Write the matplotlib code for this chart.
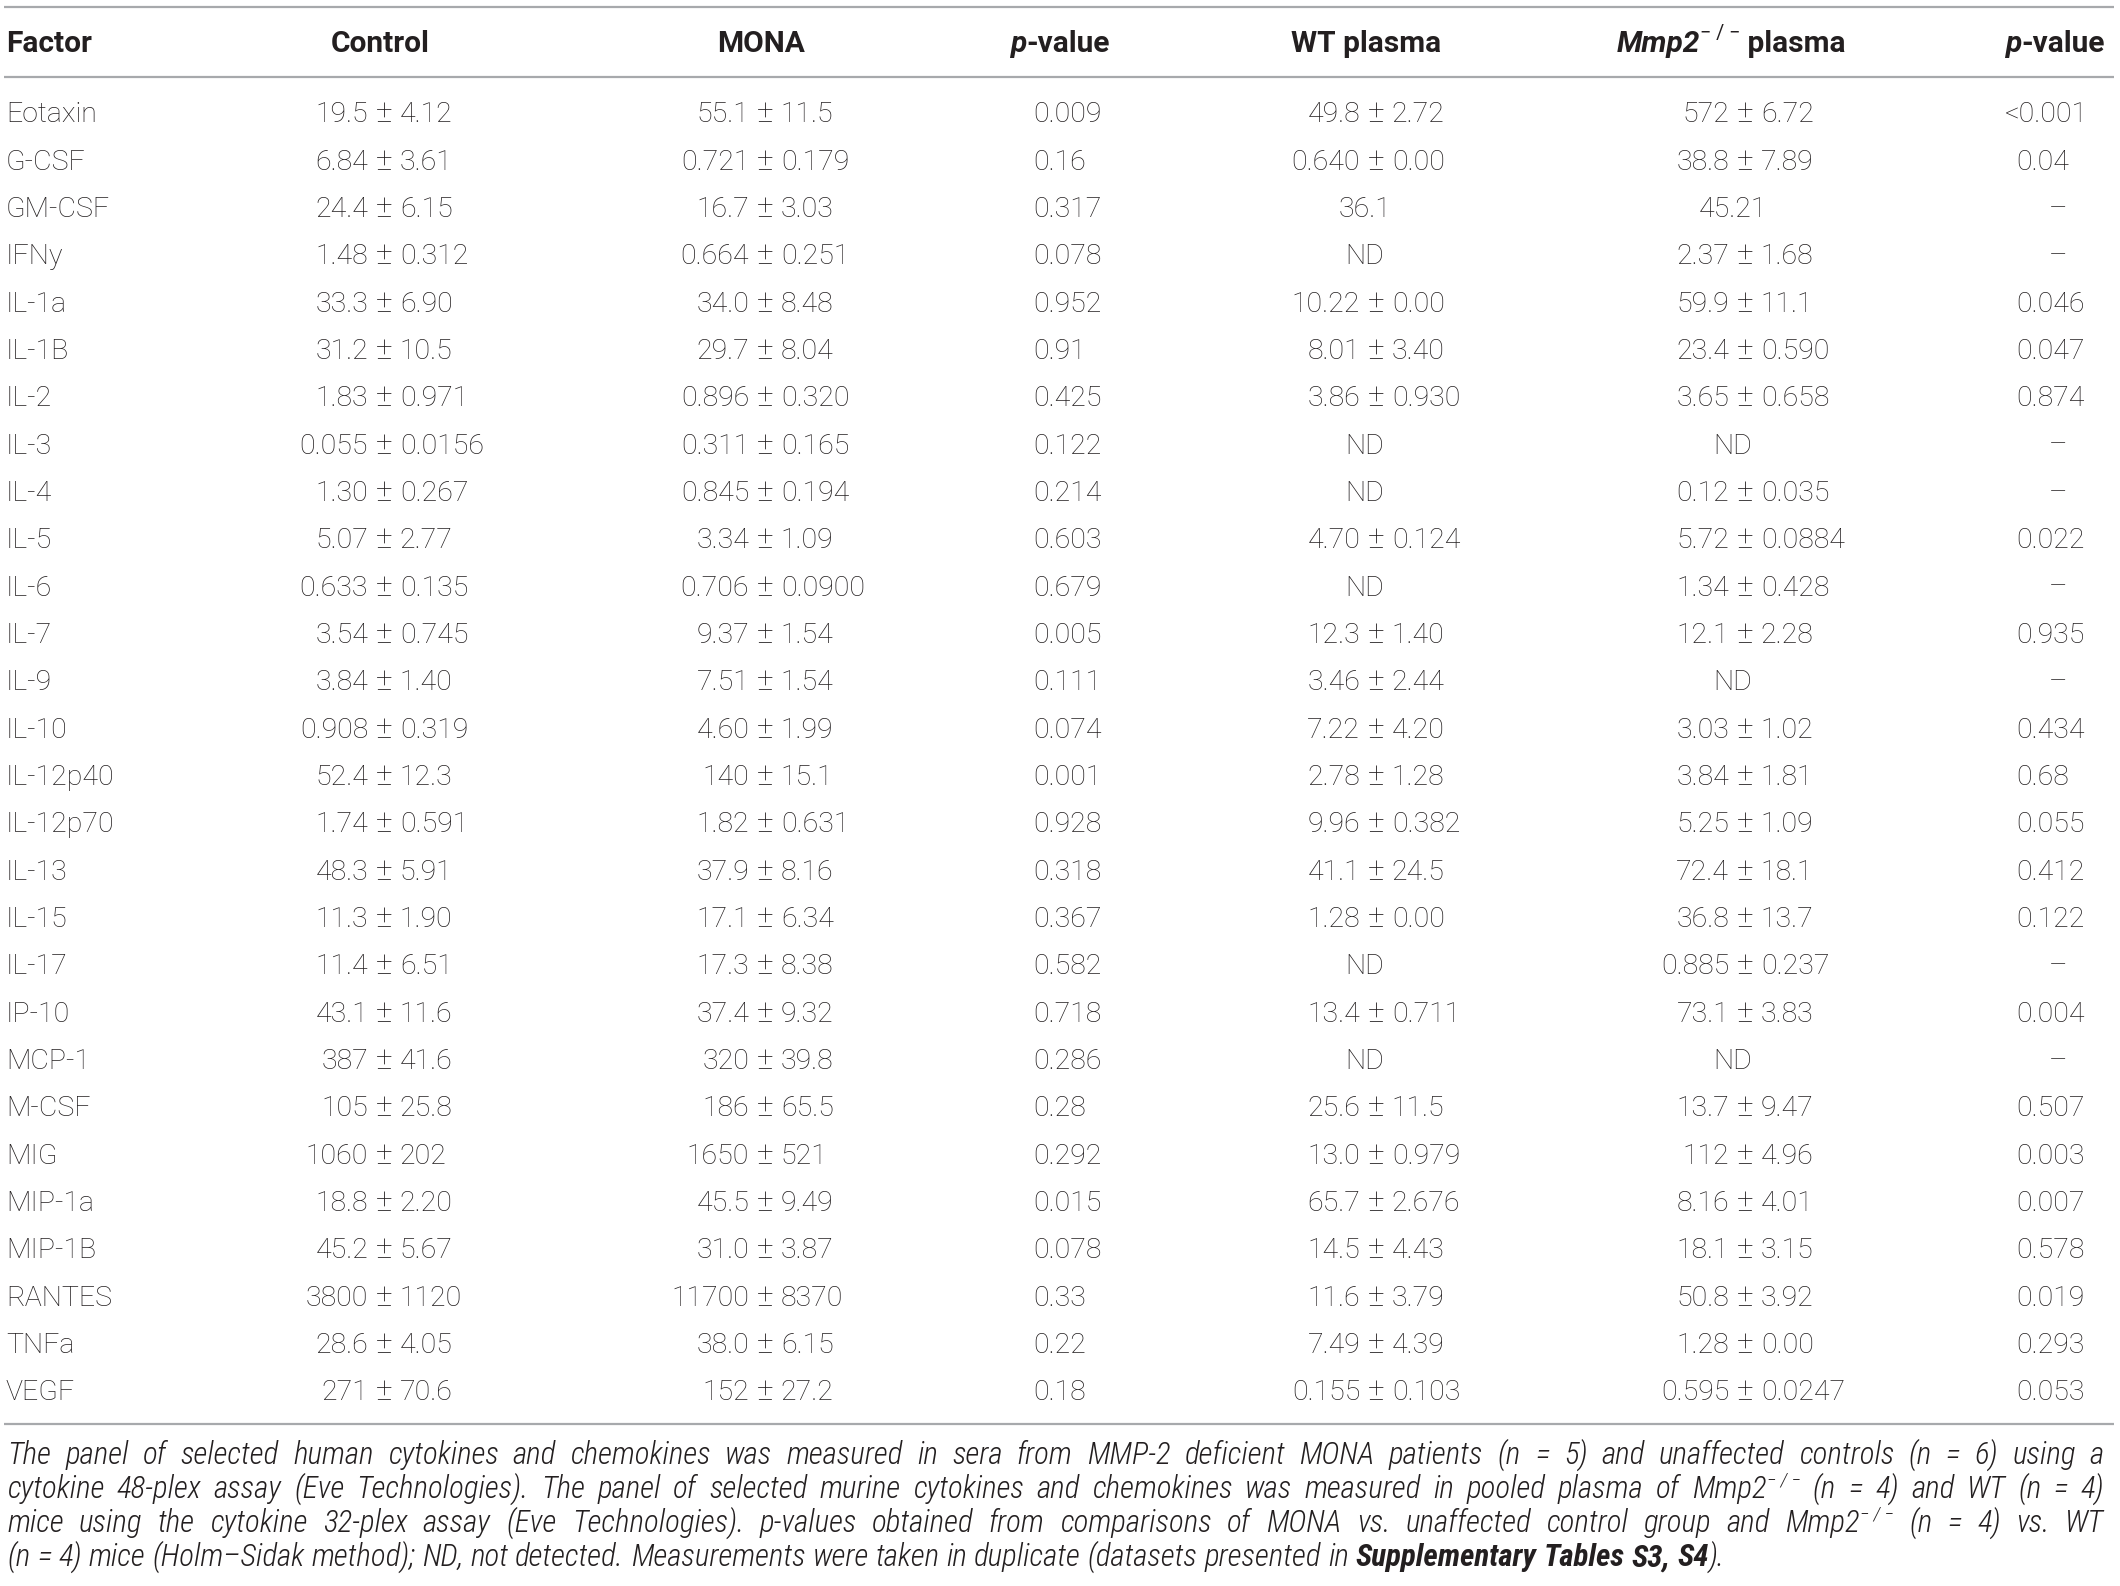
import matplotlib
matplotlib.use('Agg')
import matplotlib.pyplot as plt

# ---------------- data ----------------
factors = ["Eotaxin", "G-CSF", "GM-CSF", "IFNy", "IL-1a", "IL-1B", "IL-2", "IL-3", "IL-4",
           "IL-5", "IL-6", "IL-7", "IL-9", "IL-10", "IL-12p40", "IL-12p70", "IL-13", "IL-15",
           "IL-17", "IP-10", "MCP-1", "M-CSF", "MIG", "MIP-1a", "MIP-1B", "RANTES", "TNFa", "VEGF"]

control = ["19.5 ± 4.12", "6.84 ± 3.61", "24.4 ± 6.15", "1.48 ± 0.312", "33.3 ± 6.90",
           "31.2 ± 10.5", "1.83 ± 0.971", "0.055 ± 0.0156", "1.30 ± 0.267", "5.07 ± 2.77",
           "0.633 ± 0.135", "3.54 ± 0.745", "3.84 ± 1.40", "0.908 ± 0.319", "52.4 ± 12.3",
           "1.74 ± 0.591", "48.3 ± 5.91", "11.3 ± 1.90", "11.4 ± 6.51", "43.1 ± 11.6",
           "387 ± 41.6", "105 ± 25.8", "1060 ± 202", "18.8 ± 2.20", "45.2 ± 5.67",
           "3800 ± 1120", "28.6 ± 4.05", "271 ± 70.6"]

mona = ["55.1 ± 11.5", "0.721 ± 0.179", "16.7 ± 3.03", "0.664 ± 0.251", "34.0 ± 8.48",
        "29.7 ± 8.04", "0.896 ± 0.320", "0.311 ± 0.165", "0.845 ± 0.194", "3.34 ± 1.09",
        "0.706 ± 0.0900", "9.37 ± 1.54", "7.51 ± 1.54", "4.60 ± 1.99", "140 ± 15.1",
        "1.82 ± 0.631", "37.9 ± 8.16", "17.1 ± 6.34", "17.3 ± 8.38", "37.4 ± 9.32",
        "320 ± 39.8", "186 ± 65.5", "1650 ± 521", "45.5 ± 9.49", "31.0 ± 3.87",
        "11700 ± 8370", "38.0 ± 6.15", "152 ± 27.2"]

p_human = ["0.009", "0.16", "0.317", "0.078", "0.952", "0.91", "0.425", "0.122", "0.214",
           "0.603", "0.679", "0.005", "0.111", "0.074", "0.001", "0.928", "0.318", "0.367",
           "0.582", "0.718", "0.286", "0.28", "0.292", "0.015", "0.078", "0.33", "0.22", "0.18"]

wt_plasma = ["49.8 ± 2.72", "0.640 ± 0.00", "36.1", "ND", "10.22 ± 0.00", "8.01 ± 3.40",
             "3.86 ± 0.930", "ND", "ND", "4.70 ± 0.124", "ND", "12.3 ± 1.40", "3.46 ± 2.44",
             "7.22 ± 4.20", "2.78 ± 1.28", "9.96 ± 0.382", "41.1 ± 24.5", "1.28 ± 0.00", "ND",
             "13.4 ± 0.711", "ND", "25.6 ± 11.5", "13.0 ± 0.979", "65.7 ± 2.676",
             "14.5 ± 4.43", "11.6 ± 3.79", "7.49 ± 4.39", "0.155 ± 0.103"]

mmp2_plasma = ["572 ± 6.72", "38.8 ± 7.89", "45.21", "2.37 ± 1.68", "59.9 ± 11.1",
               "23.4 ± 0.590", "3.65 ± 0.658", "ND", "0.12 ± 0.035", "5.72 ± 0.0884",
               "1.34 ± 0.428", "12.1 ± 2.28", "ND", "3.03 ± 1.02", "3.84 ± 1.81",
               "5.25 ± 1.09", "72.4 ± 18.1", "36.8 ± 13.7", "0.885 ± 0.237", "73.1 ± 3.83",
               "ND", "13.7 ± 9.47", "112 ± 4.96", "8.16 ± 4.01", "18.1 ± 3.15", "50.8 ± 3.92",
               "1.28 ± 0.00", "0.595 ± 0.0247"]

p_mouse = ["<0.001", "0.04", "–", "–", "0.046", "0.047", "0.874", "–", "–", "0.022", "–",
           "0.935", "–", "0.434", "0.68", "0.055", "0.412", "0.122", "–", "0.004", "–",
           "0.507", "0.003", "0.007", "0.578", "0.019", "0.293", "0.053"]

footnote_lines = [
    "The panel of selected human cytokines and chemokines was measured in sera from MMP-2 deficient MONA patients (n = 5) and unaffected controls (n = 6) using a",
    "cytokine 48-plex assay (Eve Technologies). The panel of selected murine cytokines and chemokines was measured in pooled plasma of Mmp2^− / − (n = 4) and WT (n = 4)",
    "mice using the cytokine 32-plex assay (Eve Technologies). p-values obtained from comparisons of MONA vs. unaffected control group and Mmp2^− / − (n = 4) vs. WT",
    "(n = 4) mice (Holm–Sidak method); ND, not detected. Measurements were taken in duplicate (datasets presented in §Supplementary§ §Tables§ §S3,§ §S4§).",
]

# ---------------- figure ----------------
W, H = 2120, 1586
fig = plt.figure(figsize=(W / 100, H / 100), dpi=100)
ax = fig.add_axes([0, 0, 1, 1])
ax.set_xlim(0, W)
ax.set_ylim(H, 0)
ax.axis('off')
r = fig.canvas.get_renderer()

FAM = ['Roboto', 'DejaVu Sans']
FAM_FOOT = ['Roboto Condensed', 'Roboto', 'DejaVu Sans']
TXT = '#231f20'
LINE = '#a7a9ac'
FS = 20.5
HFS = 21.5
PX = 100 / 72.0


def tw(s, **p):
    t = ax.text(0, 0, s, **p)
    w = t.get_window_extent(r).width
    t.remove()
    return w


def put(x, y, s, ha='left', size=FS, weight='light', style='normal', family=FAM):
    ax.text(x, y, s, ha=ha, va='baseline', fontsize=size, fontweight=weight,
            fontstyle=style, family=family, color=TXT)


def base_y(center, size=FS):
    return center + 0.36 * size * PX


# horizontal rules
for yy in (7, 77, 1424):
    ax.plot([4, 2114], [yy, yy], color=LINE, lw=1.6, solid_capstyle='butt')

# ---------------- header ----------------
hy = base_y(41, HFS)
put(6, hy, "Factor", weight='bold', size=HFS)
put(380, hy, "Control", ha='center', weight='bold', size=HFS)
put(761, hy, "MONA", ha='center', weight='bold', size=HFS)


def header_segments(segs, x, anchor):
    widths = []
    for s, p in segs:
        widths.append(tw(s, fontsize=p.get('size', HFS), fontweight=p.get('weight', 'bold'),
                         fontstyle=p.get('style', 'normal'), family=FAM))
    total = sum(widths)
    x0 = x - total / 2 if anchor == 'center' else x - total
    for (s, p), w in zip(segs, widths):
        put(x0, hy - p.get('rise', 0), s, size=p.get('size', HFS), weight=p.get('weight', 'bold'),
            style=p.get('style', 'normal'))
        x0 += w


header_segments([("p", {'style': 'italic'}), ("-value", {})], 1060, 'center')
put(1366, hy, "WT plasma", ha='center', weight='bold', size=HFS)
header_segments([("Mmp2", {'style': 'italic'}),
                 ("− / −", {'size': HFS * 0.66, 'weight': 'normal', 'rise': 0.42 * HFS * PX}),
                 (" plasma", {})], 1731, 'center')
header_segments([("p", {'style': 'italic'}), ("-value", {})], 2105, 'right')

# ---------------- body ----------------
PMS = FS * 1.12
pm_w = tw("±", fontsize=PMS, fontweight='light', family=FAM)
gap = 0.26 * FS * PX


def cell(x_pm, x_c, y, s):
    if '±' in s:
        a, b = [q.strip() for q in s.split('±')]
        put(x_pm - pm_w / 2 - gap, y, a, ha='right')
        put(x_pm, y, "±", ha='center', size=PMS)
        put(x_pm + pm_w / 2 + gap, y, b, ha='left')
    else:
        put(x_c, y, s, ha='center')


y0, step = 112, 47.33
for i, f in enumerate(factors):
    yb = base_y(y0 + i * step)
    put(6, yb, f)
    cell(384, 380, yb, control[i])
    cell(765, 761, yb, mona[i])
    put(1033, yb, p_human[i])
    cell(1376, 1365, yb, wt_plasma[i])
    cell(1745, 1733, yb, mmp2_plasma[i])
    pv = p_mouse[i]
    if pv == '–':
        put(2058, yb, pv, ha='center')
    elif pv.startswith('<'):
        put(2088, yb, pv, ha='right')
    else:
        put(2016, yb, pv)

# ---------------- footnote ----------------
def parse_word(word):
    segs = []
    parts = word.split('§')
    for k, part in enumerate(parts):
        if not part:
            continue
        bold = (k % 2 == 1)
        if '^' in part:
            b, s = part.split('^', 1)
            segs.append((b, bold, False))
            segs.append((s, bold, True))
        else:
            segs.append((part, bold, False))
    return segs


def split_words(line):
    # keep superscript groups like "Mmp2^− / −" together as one word
    out, buf = [], None
    for w in line.split(' '):
        if buf is not None:
            buf += ' ' + w
            if buf.count('−') >= 2:
                out.append(buf)
                buf = None
            continue
        if '^' in w and w.count('−') < 2:
            buf = w
            continue
        out.append(w)
    if buf:
        out.append(buf)
    return out


def seg_props(bold, sup, size):
    return dict(fontsize=size * (0.62 if sup else 1.0),
                fontweight='bold' if bold else 'light',
                fontstyle='italic', family=FAM_FOOT)


def word_width(segs, size):
    return sum(tw(s, **seg_props(b, sp, size)) for s, b, sp in segs)


def space_w(size):
    return tw("a a", **seg_props(False, False, size)) - tw("aa", **seg_props(False, False, size))


FF0 = 18.0
sp0 = space_w(FF0)
nats = []
for line in footnote_lines:
    ws = [parse_word(w) for w in split_words(line)]
    nats.append(sum(word_width(w, FF0) for w in ws) + sp0 * (len(ws) - 1))
s13 = 2097 * 0.985 / max(nats[:3])
s4 = 1625.0 / nats[3]
FF = FF0 * 0.5 * (s13 + s4)

left, right = 7, 2104
centers = [1453, 1487, 1521, 1555]
space = space_w(FF)
for li, line in enumerate(footnote_lines):
    words = [parse_word(w) for w in split_words(line)]
    widths = [word_width(w, FF) for w in words]
    if li < 3:
        g = (right - left - sum(widths)) / (len(words) - 1)
    else:
        g = space
    x = left
    yb = centers[li] + 0.36 * FF * PX
    for segs, wdt in zip(words, widths):
        xx = x
        for s, b, sp in segs:
            p = seg_props(b, sp, FF)
            ax.text(xx, yb - (0.42 * FF * PX if sp else 0), s, ha='left', va='baseline',
                    color=TXT, **p)
            xx += tw(s, **p)
        x += wdt + g

fig.savefig('out.png', dpi=100, facecolor='white')
